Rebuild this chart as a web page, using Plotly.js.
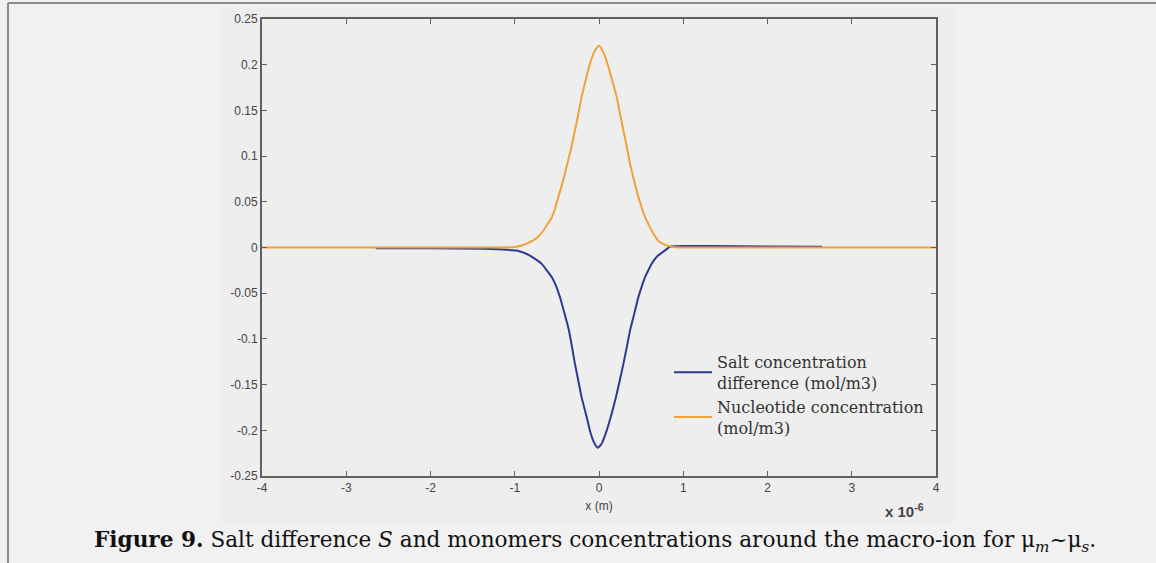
<!DOCTYPE html>
<html>
<head>
<meta charset="utf-8">
<script src="https://cdn.plot.ly/plotly-3.0.1.min.js"></script>
<style>
  html, body { margin: 0; padding: 0; background: #f1f1f1; }
  #chart { width: 1156px; height: 563px; }
</style>
</head>
<body>
<div id="chart"></div>
<script>
// x positions in units of 1e-6 m (axis multiplier shown as "x 10^-6")
const saltX = [-2.65, -2.0, -1.36, -1.2, -1.1, -0.98, -0.9, -0.82, -0.75, -0.68, -0.62, -0.56, -0.51, -0.463, -0.41, -0.356, -0.32, -0.285, -0.245, -0.206, -0.15, -0.107, -0.06, -0.015, 0.03, 0.09, 0.15, 0.20, 0.245, 0.289, 0.33, 0.368, 0.42, 0.467, 0.51, 0.546, 0.59, 0.625, 0.66, 0.70, 0.75, 0.80, 0.84, 0.9, 1.0, 1.32, 2.0, 2.65];
const saltY = [-0.0008, -0.0009, -0.0015, -0.002, -0.0025, -0.0033, -0.0055, -0.0088, -0.013, -0.0179, -0.025, -0.0325, -0.042, -0.0545, -0.072, -0.091, -0.109, -0.1276, -0.146, -0.164, -0.184, -0.2007, -0.213, -0.219, -0.215, -0.2007, -0.182, -0.164, -0.146, -0.1276, -0.109, -0.091, -0.072, -0.0545, -0.042, -0.0325, -0.024, -0.0179, -0.013, -0.0088, -0.0055, -0.002, 0.0008, 0.0015, 0.0017, 0.0017, 0.001, 0.0009];

const nucX = [-4, -2, -1.2, -1.0, -0.92, -0.85, -0.78, -0.72, -0.66, -0.6, -0.56, -0.52, -0.483, -0.43, -0.376, -0.33, -0.285, -0.245, -0.206, -0.15, -0.107, -0.05, 0, 0.05, 0.099, 0.15, 0.21, 0.25, 0.289, 0.33, 0.368, 0.42, 0.467, 0.51, 0.546, 0.59, 0.625, 0.66, 0.70, 0.75, 0.80, 0.88, 1.0, 1.3, 2.5, 4];
const nucY = [0, 0, 0.0001, 0.0006, 0.0022, 0.0045, 0.0077, 0.012, 0.0186, 0.027, 0.0333, 0.043, 0.0552, 0.072, 0.0917, 0.109, 0.1283, 0.146, 0.1648, 0.186, 0.2014, 0.215, 0.2208, 0.214, 0.2014, 0.185, 0.1648, 0.146, 0.1283, 0.11, 0.0917, 0.072, 0.0552, 0.043, 0.0333, 0.025, 0.0186, 0.013, 0.0077, 0.0045, 0.0022, 0.0006, 0.0001, 0, 0, 0];

const seriesNames = ['Salt concentration<br>difference (mol/m3)', 'Nucleotide concentration<br>(mol/m3)'];

const xTickVals = [-4, -3, -2, -1, 0, 1, 2, 3, 4];
const xTickText = ['-4', '-3', '-2', '-1', '0', '1', '2', '3', '4'];
const yTickVals = [0.25, 0.2, 0.15, 0.1, 0.05, 0, -0.05, -0.1, -0.15, -0.2, -0.25];
const yTickText = ['0.25', '0.2', '0.15', '0.1', '0.05', '0', '-0.05', '-0.1', '-0.15', '-0.2', '-0.25'];

const axisColor = '#606060';
const tickFont = { family: 'Liberation Sans, Arial, sans-serif', size: 12, color: '#444' };

const traces = [
  { x: saltX, y: saltY, type: 'scatter', mode: 'lines', name: seriesNames[0],
    line: { color: '#2e3a8e', width: 2, shape: 'spline', smoothing: 0.5 } },
  { x: nucX, y: nucY, type: 'scatter', mode: 'lines', name: seriesNames[1],
    line: { color: '#efa238', width: 2, shape: 'spline', smoothing: 0.5 } }
];

// plot area pixels: left 262, right 936, top 19, bottom 476
const L = 262, R = 936, T = 19, B = 476;
const px = v => (v - L) / (R - L);
const py = v => (B - v) / (B - T);

const layout = {
  width: 1156, height: 563,
  margin: { l: L, r: 1156 - R, t: T, b: 563 - B, pad: 0 },
  paper_bgcolor: '#f1f1f1',
  plot_bgcolor: '#eeeeee',
  showlegend: true,
  legend: {
    x: px(669), y: py(345), xanchor: 'left', yanchor: 'top',
    bgcolor: 'rgba(0,0,0,0)', borderwidth: 0,
    font: { family: 'DejaVu Serif, serif', size: 16, color: '#333' },
    valign: 'middle', tracegroupgap: 0, itemclick: false, itemwidth: 38
  },
  xaxis: {
    range: [-4, 4], tickvals: xTickVals, ticktext: xTickText,
    ticks: 'inside', ticklen: 5, tickwidth: 1, tickcolor: axisColor,
    showline: true, linecolor: axisColor, linewidth: 2, mirror: 'ticks',
    showgrid: false, zeroline: false, tickfont: tickFont,
    title: { text: 'x (m)', font: { family: 'Liberation Sans, Arial, sans-serif', size: 12, color: '#444' }, standoff: 7 }
  },
  yaxis: {
    range: [-0.25, 0.25], tickvals: yTickVals, ticktext: yTickText,
    ticks: 'inside', ticklen: 5, tickwidth: 1, tickcolor: axisColor,
    showline: true, linecolor: axisColor, linewidth: 2, mirror: 'ticks',
    showgrid: false, zeroline: false, tickfont: tickFont
  },
  shapes: [
    // MATLAB figure region (slightly different grey)
    { type: 'rect', xref: 'paper', yref: 'paper', layer: 'below',
      x0: px(218), x1: px(956), y0: py(522), y1: py(6),
      fillcolor: '#eeeeee', line: { width: 0 } },
    // page frame: top and left rules
    { type: 'line', xref: 'paper', yref: 'paper',
      x0: px(8), x1: px(1160), y0: py(3), y1: py(3),
      line: { color: '#8c8c8c', width: 2 } },
    { type: 'line', xref: 'paper', yref: 'paper',
      x0: px(8), x1: px(8), y0: py(3), y1: py(570),
      line: { color: '#8c8c8c', width: 2 } }
  ],
  annotations: [
    { xref: 'paper', yref: 'paper', x: px(926), y: py(510), xanchor: 'right', yanchor: 'middle',
      showarrow: false, text: '<b>x 10<sup>-6</sup></b>',
      font: { family: 'Liberation Sans, Arial, sans-serif', size: 15, color: '#444' } },
    { xref: 'paper', yref: 'paper', x: px(595), y: py(541), xanchor: 'center', yanchor: 'middle',
      showarrow: false,
      text: '<b>Figure 9.</b> Salt difference <i>S</i> and monomers concentrations around the macro-ion for μ<sub><i>m</i></sub>~μ<sub><i>s</i></sub>.',
      font: { family: 'DejaVu Serif, serif', size: 21.6, color: '#111' } }
  ]
};

Plotly.newPlot('chart', traces, layout, { displayModeBar: false, staticPlot: true });
</script>
</body>
</html>
